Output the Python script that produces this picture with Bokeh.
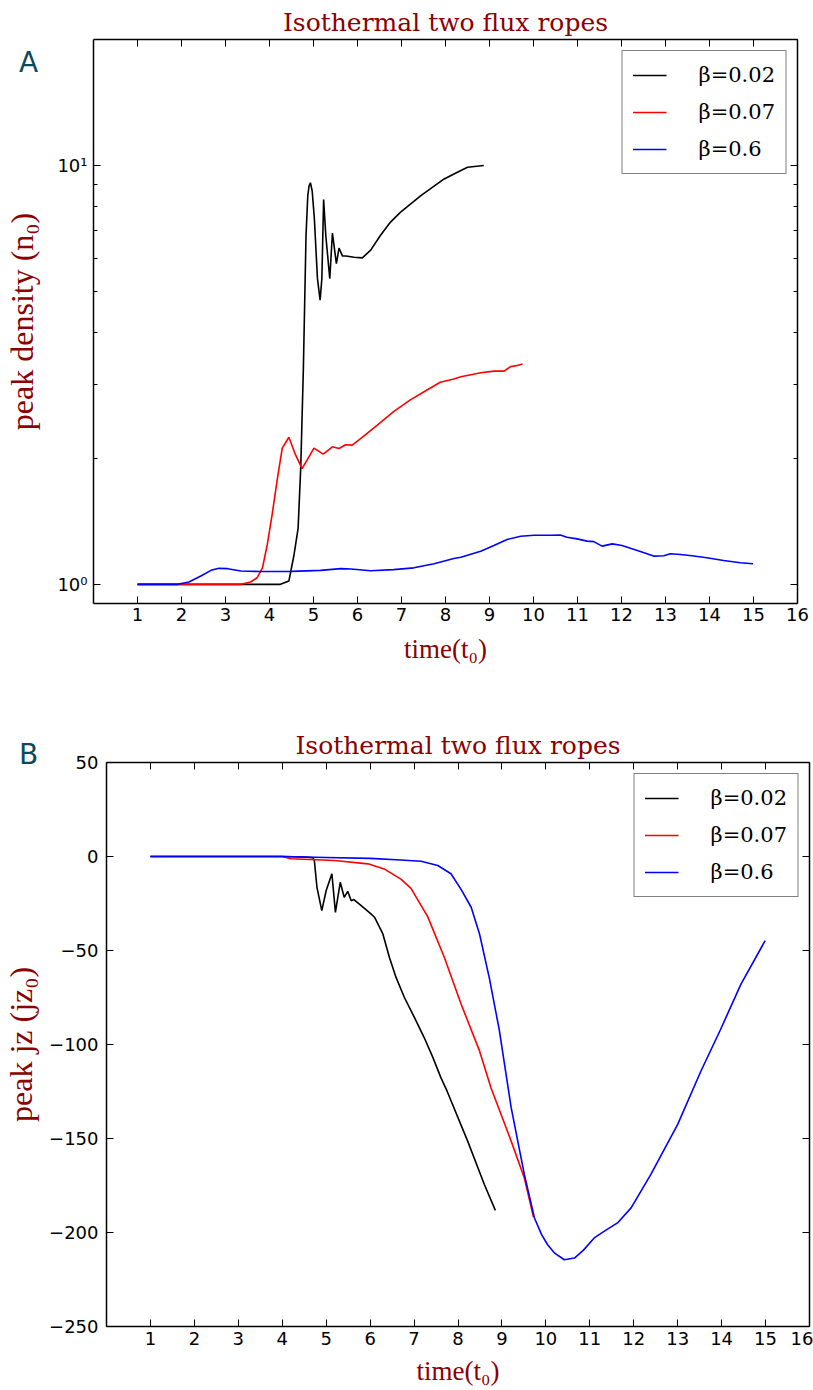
from bokeh.plotting import figure
from bokeh.models import (Range1d, FixedTicker, LinearAxis, LogAxis, Div, Legend, LegendItem,
                          CustomJSTickFormatter)
from bokeh.embed import file_html
from bokeh.resources import INLINE

# ---------------- data ----------------
title_text = "Isothermal two flux ropes"
series_labels = ["β=0.02", "β=0.07", "β=0.6"]
series_colors = ["#000000", "#ff0000", "#0000ff"]
x_ticks = list(range(1, 17))

# Panel A: peak density (log scale)
a_t_b002 = [1.0, 2.0, 3.0, 4.0, 4.25, 4.44, 4.56, 4.65, 4.71, 4.77, 4.80, 4.83, 4.87, 4.90, 4.93, 4.97,
            5.02, 5.09, 5.15, 5.19, 5.23, 5.28, 5.37, 5.43, 5.52, 5.58, 5.66, 5.74, 5.92, 6.11, 6.30,
            6.52, 6.75, 6.98, 7.44, 7.97, 8.27, 8.50, 8.87]
a_y_b002 = [1.0, 1.0, 1.0, 1.0, 1.0, 1.018, 1.18, 1.36, 1.9, 3.28, 4.73, 6.8, 8.48, 8.95, 9.1, 8.7,
            7.46, 5.37, 4.77, 5.37, 8.30, 6.8, 5.37, 6.90, 5.83, 6.35, 6.08, 6.08, 6.04, 6.02, 6.28,
            6.81, 7.33, 7.74, 8.48, 9.29, 9.64, 9.91, 10.0]

a_t_b007 = [1.0, 2.0, 3.0, 3.35, 3.57, 3.72, 3.84, 3.95, 4.06, 4.18, 4.29, 4.44, 4.59, 4.74, 4.86,
            5.01, 5.22, 5.43, 5.58, 5.73, 5.88, 6.07, 6.45, 6.82, 7.20, 7.58, 7.88, 8.19, 8.35, 8.80,
            9.10, 9.33, 9.48, 9.63, 9.75]
a_y_b007 = [1.0, 1.0, 1.0, 1.0, 1.013, 1.037, 1.095, 1.245, 1.468, 1.79, 2.115, 2.245, 2.04, 1.89,
            1.985, 2.115, 2.046, 2.13, 2.11, 2.154, 2.15, 2.227, 2.40, 2.586, 2.758, 2.912, 3.037,
            3.094, 3.13, 3.20, 3.23, 3.23, 3.31, 3.33, 3.36]

a_t_b06 = [1.0, 1.91, 2.17, 2.44, 2.67, 2.85, 3.05, 3.35, 3.80, 4.5, 5.16, 5.62, 5.85, 6.30, 6.82,
           7.28, 7.74, 8.19, 8.35, 8.80, 9.10, 9.40, 9.71, 10.01, 10.39, 10.61, 10.76, 10.99, 11.22,
           11.37, 11.56, 11.79, 12.01, 12.36, 12.73, 12.96, 13.11, 13.34, 13.60, 13.94, 14.32, 14.70,
           14.99]
a_y_b06 = [1.0, 1.0, 1.013, 1.047, 1.08, 1.092, 1.09, 1.076, 1.073, 1.074, 1.08, 1.09, 1.088, 1.078,
           1.084, 1.095, 1.12, 1.153, 1.161, 1.20, 1.238, 1.28, 1.303, 1.31, 1.31, 1.312, 1.296, 1.284,
           1.268, 1.265, 1.234, 1.249, 1.238, 1.205, 1.168, 1.17, 1.183, 1.178, 1.17, 1.157, 1.14,
           1.126, 1.12]

a_y_ticks = [1, 10]
a_y_minor = [2, 3, 4, 5, 6, 7, 8, 9]
a_y_labels = {1: "10⁰", 10: "10¹"}

# Panel B: peak jz (linear)
b_t_b002 = [1.0, 2.0, 3.0, 4.0, 4.5, 4.70, 4.73, 4.79, 4.90, 5.00, 5.13, 5.21, 5.32, 5.41, 5.49,
            5.57, 5.63, 5.79, 6.02, 6.10, 6.29, 6.44, 6.59, 6.78, 7.01, 7.23, 7.43, 7.61, 7.75,
            8.22, 8.60, 8.85]
b_y_b002 = [0, 0, 0, 0, -0.3, -0.7, -2, -16.4, -28.8, -18.1, -9.2, -29.7, -13.7, -21.7, -18.5,
            -23.5, -22.9, -26, -30.5, -32.3, -41.2, -53.7, -64.3, -75, -85.7, -96.3, -107, -117.6,
            -124.7, -151.4, -174.5, -188.2]

b_t_b007 = [1.0, 2.0, 3.0, 4.0, 4.20, 5.19, 5.95, 6.32, 6.70, 6.93, 7.31, 7.69, 8.07, 8.49, 8.75,
            9.21, 9.51, 9.72]
b_y_b007 = [0, 0, 0, 0, -1.2, -2.1, -3.9, -6.6, -12, -17, -32, -53.7, -78.5, -103.4, -123, -151.4,
            -171, -191.9]

b_t_b06 = [1.0, 2.0, 3.0, 4.0, 5.0, 6.0, 6.70, 7.16, 7.54, 7.84, 8.07, 8.30, 8.49, 8.71, 8.94, 9.21,
           9.51, 9.74, 9.90, 10.04, 10.20, 10.42, 10.65, 10.85, 11.10, 11.35, 11.63, 11.94, 12.39,
           13.00, 13.53, 13.97, 14.44, 14.99]
b_y_b06 = [0, 0, 0, 0, -0.5, -1.0, -1.9, -2.5, -4.8, -9.2, -17.5, -27, -41.2, -64.3, -92.3, -133.6,
           -169.1, -192.3, -201, -206.5, -211, -214.5, -213.6, -209.5, -202.9, -199, -194.9, -186.9,
           -169.1, -142.5, -114.1, -92.3, -67.9, -44.8]

b_y_ticks = [-250, -200, -150, -100, -50, 0, 50]

# ---------------- styling ----------------
LABEL_RED = "#8b0000"
PANEL_TEAL = "#0d4a5c"
TICK_FONT = "DejaVu Sans"


def style_axis(ax, show_labels=True, minor=False):
    ax.axis_line_color = "black"
    ax.axis_line_width = 1.5
    ax.major_tick_in = 7
    ax.major_tick_out = 0
    ax.major_tick_line_color = "black"
    ax.major_tick_line_width = 1
    if minor:
        ax.minor_tick_in = 4
        ax.minor_tick_out = 0
        ax.minor_tick_line_color = "black"
    else:
        ax.minor_tick_line_color = None
    ax.major_label_text_font = TICK_FONT
    ax.major_label_text_color = "black"
    if show_labels:
        ax.major_label_text_font_size = "18px"
    else:
        ax.formatter = CustomJSTickFormatter(code="return ''")
        ax.major_label_text_font_size = "1px"
        ax.major_label_standoff = 0


def style_title(p):
    p.title.text = title_text
    p.title.align = "center"
    p.title.text_font = "DejaVu Serif"
    p.title.text_font_size = "25px"
    p.title.text_font_style = "normal"
    p.title.text_color = LABEL_RED
    p.title.standoff = 5


def add_legend(p, renderers):
    items = [LegendItem(label=lab, renderers=[r]) for lab, r in zip(series_labels, renderers)]
    leg = Legend(items=items, location="top_right")
    leg.margin = 11
    leg.padding = 10
    leg.spacing = 9
    leg.glyph_width = 34
    leg.glyph_height = 28
    leg.label_height = 28
    leg.label_standoff = 32
    leg.label_text_font = "DejaVu Serif"
    leg.label_text_font_size = "21px"
    leg.label_text_color = "black"
    leg.border_line_color = "black"
    leg.border_line_width = 1.5
    leg.background_fill_color = "white"
    leg.background_fill_alpha = 1.0
    p.add_layout(leg, "center")


def panel_letter(text, left, top):
    return Div(text=text, styles={
        "position": "absolute", "left": f"{left}px", "top": f"{top}px",
        "font-family": "DejaVu Sans", "font-size": "28px", "line-height": "28px",
        "color": PANEL_TEAL, "margin": "0", "padding": "0", "z-index": "10"})


def style_labels(axes, size):
    for ax in axes:
        ax.axis_label_text_font = "Liberation Serif"
        ax.axis_label_text_font_size = size
        ax.axis_label_text_font_style = "normal"
        ax.axis_label_text_color = LABEL_RED


# ---------------- Panel A ----------------
pA = figure(width=813, height=700, x_range=Range1d(0, 16), y_range=Range1d(0.9, 20),
            y_axis_type="log", output_backend="svg", toolbar_location=None,
            min_border_left=93, min_border_right=16, min_border_top=39, min_border_bottom=97)
pA.outline_line_color = None
pA.xgrid.visible = False
pA.ygrid.visible = False
style_title(pA)

rA = []
for t, y, c in zip([a_t_b002, a_t_b007, a_t_b06], [a_y_b002, a_y_b007, a_y_b06], series_colors):
    rA.append(pA.line(t, y, line_color=c, line_width=1.6))

pA.xaxis.ticker = FixedTicker(ticks=x_ticks)
style_axis(pA.xaxis[0])
pA.xaxis.major_label_standoff = 4
pA.xaxis.axis_label = "time(t₀)"
pA.yaxis.ticker = FixedTicker(ticks=a_y_ticks, minor_ticks=a_y_minor)
style_axis(pA.yaxis[0], minor=True)
pA.yaxis.major_label_overrides = a_y_labels
pA.yaxis.major_label_standoff = 6
pA.yaxis.axis_label = "peak density (n₀)"
style_labels([pA.xaxis[0]], "27px")
style_labels([pA.yaxis[0]], "32px")
pA.xaxis.axis_label_standoff = 10
pA.yaxis.axis_label_standoff = 14

topA = LinearAxis(ticker=FixedTicker(ticks=x_ticks))
style_axis(topA, show_labels=False)
pA.add_layout(topA, "above")
rightA = LogAxis(ticker=FixedTicker(ticks=a_y_ticks, minor_ticks=a_y_minor))
style_axis(rightA, show_labels=False, minor=True)
pA.add_layout(rightA, "right")

add_legend(pA, rA)

# ---------------- Panel B ----------------
pB = figure(width=813, height=690, x_range=Range1d(0, 16), y_range=Range1d(-250, 50),
            output_backend="svg", toolbar_location=None,
            min_border_left=105, min_border_right=4, min_border_top=62, min_border_bottom=64)
pB.outline_line_color = None
pB.xgrid.visible = False
pB.ygrid.visible = False
style_title(pB)

rB = []
for t, y, c in zip([b_t_b002, b_t_b007, b_t_b06], [b_y_b002, b_y_b007, b_y_b06], series_colors):
    rB.append(pB.line(t, y, line_color=c, line_width=1.6))

pB.xaxis.ticker = FixedTicker(ticks=x_ticks)
style_axis(pB.xaxis[0])
pB.xaxis.major_label_standoff = 5
pB.xaxis.axis_label = "time(t₀)"
pB.yaxis.ticker = FixedTicker(ticks=b_y_ticks)
style_axis(pB.yaxis[0])
pB.yaxis.major_label_overrides = {v: (("−" + str(abs(v))) if v < 0 else str(v)) for v in b_y_ticks}
pB.yaxis.major_label_standoff = 8
pB.yaxis.axis_label = "peak jz (jz₀)"
style_labels([pB.xaxis[0]], "27px")
style_labels([pB.yaxis[0]], "32px")
pB.xaxis.axis_label_standoff = 8
pB.yaxis.axis_label_standoff = 7

topB = LinearAxis(ticker=FixedTicker(ticks=x_ticks))
style_axis(topB, show_labels=False)
pB.add_layout(topB, "above")
rightB = LinearAxis(ticker=FixedTicker(ticks=b_y_ticks))
style_axis(rightB, show_labels=False)
pB.add_layout(rightB, "right")

add_legend(pB, rB)

letterA = panel_letter("A", 19, 49)
letterB = panel_letter("B", 19, 741)

open("out.html", "w").write(file_html([pA, pB, letterA, letterB], INLINE))
